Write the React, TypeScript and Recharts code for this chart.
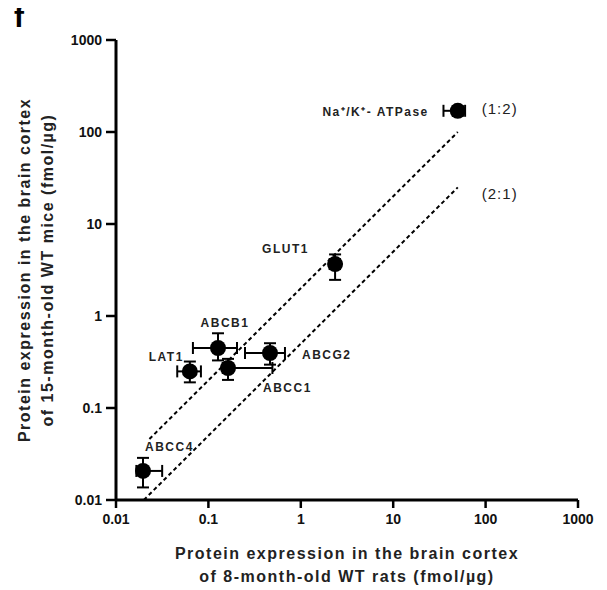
import { ScatterChart, Scatter, XAxis, YAxis, ErrorBar, ReferenceLine } from 'recharts'

const proteins = ['Na⁺/K⁺- ATPase', 'GLUT1', 'ABCB1', 'LAT1', 'ABCG2', 'ABCC1', 'ABCC4']
const ratRats = [50, 2.35, 0.127, 0.063, 0.464, 0.163, 0.0196]
const mouseMice = [170, 3.67, 0.449, 0.25, 0.396, 0.272, 0.0207]
const ratErrLow = [15, 0.3, 0.059, 0.017, 0.215, 0.02, 0.003]
const ratErrHigh = [10, 0.3, 0.077, 0.02, 0.21, 0.33, 0.012]
const mouseErrLow = [20, 1.2, 0.12, 0.06, 0.1, 0.07, 0.007]
const mouseErrHigh = [20, 1.0, 0.2, 0.07, 0.11, 0.07, 0.008]

const axisTicks = [0.01, 0.1, 1, 10, 100, 1000]

// dashed ratio lines, endpoints in data units
const ratioNames = ['(1:2)', '(2:1)']
const ratioStart = [[0.023, 0.046], [0.02, 0.01]]
const ratioEnd = [[50, 100], [50, 25]]

const data = proteins.map((name, i) => ({
  name,
  x: ratRats[i],
  y: mouseMice[i],
  xErr: [ratErrLow[i], ratErrHigh[i]],
  yErr: [mouseErrLow[i], mouseErrHigh[i]],
}))

// label placement next to each point (px)
const labelPos: Record<string, { dx: number; dy: number; anchor: string }> = {
  'Na⁺/K⁺- ATPase': { dx: -29, dy: 5, anchor: 'end' },
  GLUT1: { dx: -73, dy: -11, anchor: 'start' },
  ABCB1: { dx: 7, dy: -21, anchor: 'middle' },
  LAT1: { dx: -6, dy: -10, anchor: 'end' },
  ABCG2: { dx: 32, dy: 6, anchor: 'start' },
  ABCC1: { dx: 35, dy: 24, anchor: 'start' },
  ABCC4: { dx: 2, dy: -20, anchor: 'start' },
}

const font = '"Liberation Sans", Arial, sans-serif'

const PointShape = (props: any) => {
  const { cx, cy, payload } = props
  const pos = labelPos[payload.name]
  return (
    <g>
      <circle cx={cx} cy={cy} r={8} fill="#000" />
      <text
        x={cx + pos.dx}
        y={cy + pos.dy}
        textAnchor={pos.anchor as any}
        fontSize={12}
        letterSpacing={1.5}
        fontWeight="bold"
        fontFamily={font}
        fill="#222"
      >
        {payload.name}
      </text>
    </g>
  )
}

const RatioLabel = (text: string, dy: number) => (props: any) => {
  const vb = props.viewBox || {}
  const x = (vb.x ?? 0) + (vb.width ?? 0) + 24
  const y = (vb.y ?? 0) + dy
  return (
    <text x={x} y={y} fontSize={15} letterSpacing={1} fontFamily={font} fill="#222">
      {text}
    </text>
  )
}

const tickStyle = { fontSize: 14, fontWeight: 'bold', fill: '#111', fontFamily: font }

const titleStyle: any = {
  position: 'absolute',
  textAlign: 'center',
  fontSize: 16,
  letterSpacing: 1.5,
  fontWeight: 'bold',
  lineHeight: '23px',
  color: '#222',
  whiteSpace: 'nowrap',
}

export default function App() {
  return (
    <div style={{ position: 'relative', width: 599, height: 582, fontFamily: font }}>
      <div style={{ position: 'absolute', left: 6, top: -6, fontSize: 30, lineHeight: 1, fontWeight: 'bold' }}>f</div>
      <ScatterChart width={599} height={582} margin={{ top: 32, right: 29, bottom: 60, left: 48 }}>
        <XAxis
          type="number"
          dataKey="x"
          scale="log"
          domain={[0.01, 1000]}
          ticks={axisTicks}
          allowDataOverflow
          height={30}
          tick={tickStyle}
          tickLine={{ stroke: '#000', strokeWidth: 2.5 }}
          axisLine={{ stroke: '#000', strokeWidth: 3 }}
          tickSize={8}
          tickMargin={6}
          interval={0}
        />
        <YAxis
          type="number"
          dataKey="y"
          scale="log"
          domain={[0.01, 1000]}
          ticks={axisTicks}
          allowDataOverflow
          width={60}
          tick={tickStyle}
          tickLine={{ stroke: '#000', strokeWidth: 2.5 }}
          axisLine={{ stroke: '#000', strokeWidth: 3 }}
          tickSize={10}
          tickMargin={4}
          interval={0}
        />
        {ratioNames.map((nm, i) => (
          <ReferenceLine
            key={nm}
            segment={[
              { x: ratioStart[i][0], y: ratioStart[i][1] },
              { x: ratioEnd[i][0], y: ratioEnd[i][1] },
            ]}
            stroke="#000"
            strokeWidth={2}
            strokeDasharray="4 3"
            label={{ content: RatioLabel(nm, i === 0 ? -18 : 12) }}
          />
        ))}
        <Scatter data={data} fill="#000" shape={PointShape} isAnimationActive={false}>
          <ErrorBar dataKey="xErr" direction="x" width={6} stroke="#000" strokeWidth={2} />
          <ErrorBar dataKey="yErr" direction="y" width={6} stroke="#000" strokeWidth={2} />
        </Scatter>
      </ScatterChart>
      <div style={{ ...titleStyle, left: 108, width: 462, top: 534 }}>
        Protein expression in the brain cortex
        <br />
        of 8-month-old WT rats (fmol/µg)
      </div>
      <div
        style={{
          ...titleStyle,
          left: 28 - 230,
          top: 262 - 23,
          width: 460,
          transform: 'rotate(-90deg)',
          transformOrigin: '230px 23px',
        }}
      >
        Protein expression in the brain cortex
        <br />
        of 15-month-old WT mice (fmol/µg)
      </div>
    </div>
  )
}
